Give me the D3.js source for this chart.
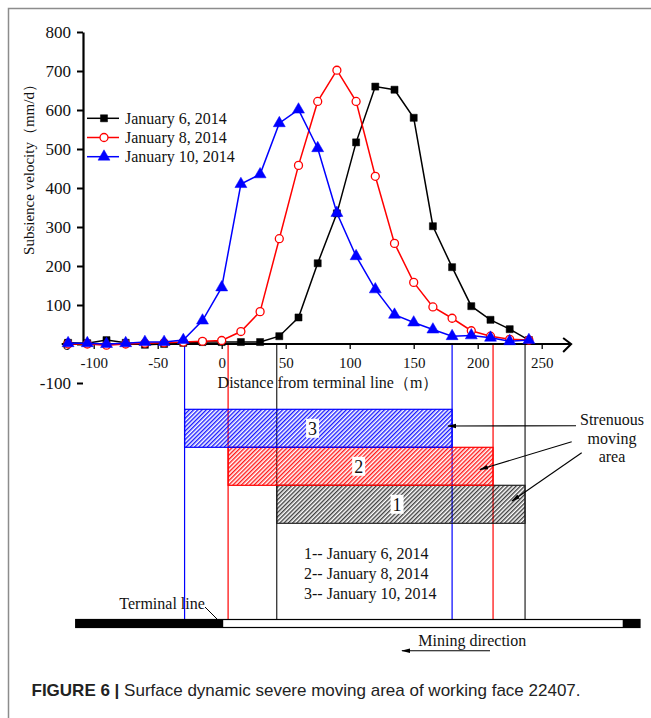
<!DOCTYPE html>
<html>
<head>
<meta charset="utf-8">
<script src="https://cdn.jsdelivr.net/npm/d3@7"></script>
<style>
body { margin: 0; background: #fff; }
svg { display: block; }
text { font-family: "Liberation Serif", "Times New Roman", serif; fill: #111; }
</style>
</head>
<body>
<div id="chart"></div>
<script>
// data
var distance = [-120,-105,-90,-75,-60,-45,-30,-15,0,15,30,45,60,75,90,105,120,135,150,165,180,195,210,225,240];
var jan6  = [3,2,10,3,-2,0,3,5,5,5,5,20,68,207,335,517,660,652,580,302,197,97,62,38,10];
var jan8  = [0,0,-3,0,2,3,5,7,9,32,83,270,458,622,702,622,430,258,158,95,66,34,20,12,10];
var jan10 = [2,2,0,2,5,5,10,60,145,410,435,566,601,502,336,225,140,75,55,37,20,22,16,7,10];
var seriesNames = ["January 6, 2014", "January 8, 2014", "January 10, 2014"];
var xTicks = [-100,-50,0,50,100,150,200,250];
var yTicks = [-100,0,100,200,300,400,500,600,700,800];

// strenuous moving area (m) for each date
var areaIds   = ["1", "2", "3"];
var areaStart = [43, 5, -29];
var areaEnd   = [237, 212, 180];
var areaLabelAt = [137, 107, 71];
var areaNames = ["1-- January 6, 2014", "2-- January 8, 2014", "3-- January 10, 2014"];

var colors = ["#000000", "#ff0000", "#0000ff"];
var W = 651, H = 718;

var svg = d3.select("#chart").append("svg")
    .attr("width", W).attr("height", H);

var defs = svg.append("defs");
colors.forEach(function(c, i){
    var p = defs.append("pattern")
        .attr("id", "hatch" + i)
        .attr("patternUnits", "userSpaceOnUse")
        .attr("width", 3).attr("height", 3)
        .attr("patternTransform", "rotate(45)");
    p.append("line").attr("x1", 0.7).attr("y1", 0).attr("x2", 0.7).attr("y2", 3)
        .attr("stroke", c).attr("stroke-width", 1.4).attr("opacity", i == 0 ? 0.75 : 0.9);
});
defs.append("marker").attr("id", "arrow")
    .attr("viewBox", "0 0 10 6").attr("refX", 9).attr("refY", 3)
    .attr("markerWidth", 9).attr("markerHeight", 6)
    .attr("markerUnits", "userSpaceOnUse")
    .attr("orient", "auto")
    .append("path").attr("d", "M0,0.5L10,3L0,5.5z").attr("fill", "#000");

// frame
svg.append("path").attr("d", "M8.5," + H + "V8.5H" + W)
    .attr("fill", "none").attr("stroke", "#8c8c8c").attr("stroke-width", 1.5);

var x = d3.scaleLinear().domain([0, 250]).range([221.7, 541.7]);
var y = d3.scaleLinear().domain([0, 800]).range([344, 32]);

// lower diagram: vertical boundary lines
var band = d3.scaleBand().domain(["3", "2", "1"]).range([409.3, 523.3]);
areaIds.forEach(function(id, i){
    [areaStart[i], areaEnd[i]].forEach(function(v){
        svg.append("line")
            .attr("x1", x(v)).attr("x2", x(v))
            .attr("y1", y(0)).attr("y2", 619.5)
            .attr("stroke", i == 0 ? "#222" : colors[i]).attr("stroke-width", 1.2);
    });
});

// hatched rectangles
areaIds.forEach(function(id, i){
    svg.append("rect")
        .attr("x", x(areaStart[i])).attr("y", band(id))
        .attr("width", x(areaEnd[i]) - x(areaStart[i]))
        .attr("height", band.bandwidth())
        .attr("fill", "url(#hatch" + i + ")")
        .attr("stroke", i == 0 ? "#222" : colors[i]).attr("stroke-width", 1.2);
    var lx = x(areaLabelAt[i]), ly = band(id) + band.bandwidth() / 2;
    svg.append("rect").attr("x", lx - 6.5).attr("y", ly - 9.5)
        .attr("width", 13).attr("height", 19).attr("fill", "#fff");
    svg.append("text").attr("x", lx).attr("y", ly).attr("dy", "0.35em")
        .attr("text-anchor", "middle").style("font-size", "18px").text(id);
});

// axes
var fmt = function(d){ return String(d); };
var xAxis = svg.append("g").attr("transform", "translate(0," + y(0) + ")");
xAxis.call(d3.axisBottom(x).tickValues(d3.range(-100, 251, 25)).tickSize(5).tickFormat(""));
xAxis.call(d3.axisBottom(x).tickValues(xTicks).tickSize(5).tickPadding(8).tickFormat(fmt))
    .call(function(g){ g.selectAll(".domain").remove(); });
xAxis.selectAll("text").style("font-size", "15px").style("font-family", "Liberation Serif");
xAxis.selectAll(".tick line").attr("stroke-width", 1.3);
xAxis.append("path").attr("d", "M" + x(-125) + ",0H" + x(273))
    .attr("stroke", "#000").attr("stroke-width", 2).attr("fill", "none");
xAxis.append("path").attr("d", "M" + (x(273) - 8) + ",-6L" + x(273) + ",0L" + (x(273) - 8) + ",8")
    .attr("stroke", "#000").attr("stroke-width", 2).attr("fill", "none");

var yAxis = svg.append("g").attr("transform", "translate(83,0)");
yAxis.call(d3.axisLeft(y).tickValues(d3.range(-50, 800, 100)).tickSize(3).tickFormat("").tickSizeOuter(0));
yAxis.call(d3.axisLeft(y).tickValues(yTicks).tickSize(6).tickPadding(6).tickSizeOuter(0).tickFormat(fmt));
yAxis.selectAll(".domain").attr("stroke-width", 2.2);
yAxis.selectAll(".tick line").attr("stroke-width", 2);
yAxis.selectAll("text").style("font-size", "17px").style("font-family", "Liberation Serif");

svg.append("text").attr("transform", "translate(34,166) rotate(-90)")
    .attr("text-anchor", "middle").style("font-size", "15px")
    .text("Subsience velocity（mm/d）");
svg.append("text").attr("x", 328).attr("y", 388)
    .attr("text-anchor", "middle").style("font-size", "16px")
    .text("Distance from terminal line（m）");

// series
var allSeries = [jan6, jan8, jan10];
var symbols = [d3.symbolSquare, d3.symbolCircle, d3.symbolTriangle];
var symSize = [50, 50, 62];
var line = d3.line().x(function(d){ return x(d.x); }).y(function(d){ return y(d.y); });

allSeries.forEach(function(vals, i){
    var pts = distance.map(function(dx, j){ return {x: dx, y: vals[j]}; });
    svg.append("path").datum(pts).attr("d", line)
        .attr("fill", "none").attr("stroke", colors[i]).attr("stroke-width", 1.5);
    svg.selectAll(".m" + i).data(pts).enter().append("path")
        .attr("class", "m" + i)
        .attr("transform", function(d){ return "translate(" + x(d.x) + "," + y(d.y) + ")"; })
        .attr("d", d3.symbol().type(symbols[i]).size(symSize[i]))
        .attr("fill", i == 1 ? "#fff" : colors[i])
        .attr("stroke", colors[i]).attr("stroke-width", i == 1 ? 1.3 : 0.5);
});

// legend
var lg = svg.append("g");
seriesNames.forEach(function(name, i){
    var ly = 118.3 + i * 19.2;
    lg.append("line").attr("x1", 87).attr("x2", 119).attr("y1", ly).attr("y2", ly)
        .attr("stroke", colors[i]).attr("stroke-width", 1.5);
    lg.append("path").attr("transform", "translate(104," + ly + ")")
        .attr("d", d3.symbol().type(symbols[i]).size(symSize[i]))
        .attr("fill", i == 1 ? "#fff" : colors[i])
        .attr("stroke", colors[i]).attr("stroke-width", i == 1 ? 1.3 : 0.5);
    lg.append("text").attr("x", 125).attr("y", ly).attr("dy", "0.35em")
        .style("font-size", "16px").text(name);
});

// "Strenuous moving area" annotation
["Strenuous", "moving", "area"].forEach(function(t, i){
    svg.append("text").attr("x", 612).attr("y", [419.5, 438.5, 456][i]).attr("dy", "0.35em")
        .attr("text-anchor", "middle").style("font-size", "16px").text(t);
});
var pointers = [[576, 425.7, 448, 426], [571.7, 441.7, 480, 469.5], [581.7, 452.7, 512, 501]];
pointers.forEach(function(p){
    svg.append("line").attr("x1", p[0]).attr("y1", p[1]).attr("x2", p[2]).attr("y2", p[3])
        .attr("stroke", "#000").attr("stroke-width", 1.1).attr("marker-end", "url(#arrow)");
});

// legend of the lower diagram
areaNames.forEach(function(t, i){
    svg.append("text").attr("x", 304).attr("y", 553.3 + i * 20).attr("dy", "0.35em")
        .style("font-size", "16px").text(t);
});

// working face bar with terminal line
svg.append("rect").attr("x", 75.7).attr("y", 619.5).attr("width", 564.3).attr("height", 8)
    .attr("fill", "#fff").attr("stroke", "#000").attr("stroke-width", 1.2);
svg.append("rect").attr("x", 75.7).attr("y", 619.5).attr("width", x(0) + 1.5 - 75.7).attr("height", 8)
    .attr("fill", "#000");
svg.append("rect").attr("x", 622.7).attr("y", 619.5).attr("width", 17.3).attr("height", 8)
    .attr("fill", "#000");
svg.append("text").attr("x", 119.3).attr("y", 603.5).attr("dy", "0.35em")
    .style("font-size", "16px").text("Terminal line");
svg.append("line").attr("x1", 205).attr("y1", 607).attr("x2", 217).attr("y2", 619)
    .attr("stroke", "#000").attr("stroke-width", 1);

svg.append("text").attr("x", 418.3).attr("y", 640).attr("dy", "0.35em")
    .style("font-size", "16px").text("Mining direction");
svg.append("line").attr("x1", 490).attr("y1", 650.7).attr("x2", 402).attr("y2", 650.7)
    .attr("stroke", "#000").attr("stroke-width", 1.1).attr("marker-end", "url(#arrow)");

// caption
var cap = svg.append("text").attr("x", 31.5).attr("y", 696)
    .style("font-family", "Liberation Sans, Arial, sans-serif").style("font-size", "17px")
    .style("fill", "#222");
cap.append("tspan").style("font-weight", "bold").text("FIGURE 6 | ");
cap.append("tspan").text("Surface dynamic severe moving area of working face 22407.");
</script>
</body>
</html>
